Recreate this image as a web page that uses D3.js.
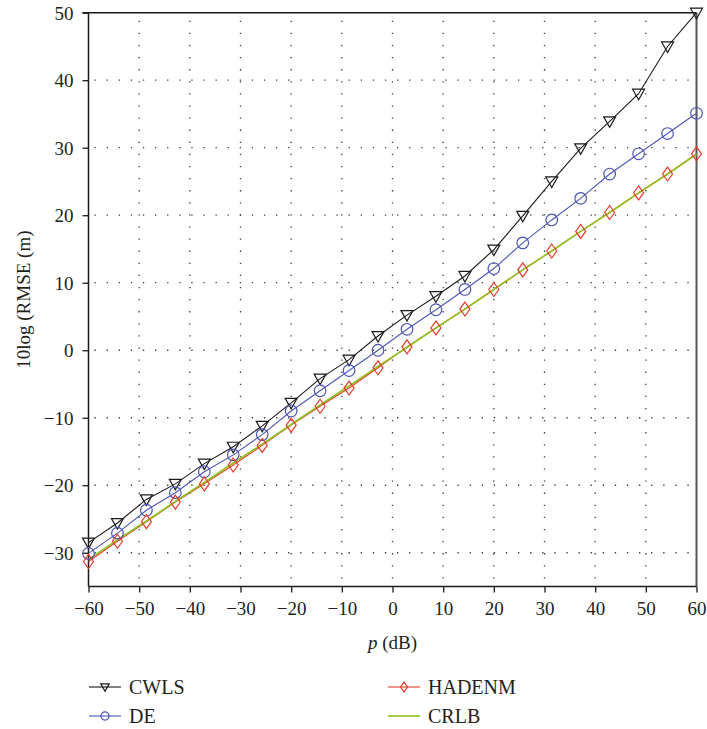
<!DOCTYPE html>
<html>
<head>
<meta charset="utf-8">
<script src="https://cdn.jsdelivr.net/npm/d3@7"></script>
<style>
  html, body { margin: 0; padding: 0; background: #fff; }
  svg { display: block; }
</style>
</head>
<body>
<svg id="chart" width="707" height="729"></svg>
<script>
// Power levels p (dB) at which each estimator was evaluated
const pValues = [-60, -54.29, -48.57, -42.86, -37.14, -31.43, -25.71, -20, -14.29, -8.57, -2.86,
                 2.86, 8.57, 14.29, 20, 25.71, 31.43, 37.14, 42.86, 48.57, 54.29, 60];

// 10log(RMSE) for each method
const cwls   = [-28.5, -25.6, -22.1, -19.8, -16.8, -14.3, -11.2, -7.8, -4.2, -1.4, 2.1,
                5.2, 8.0, 11.0, 14.9, 19.9, 25.0, 29.9, 33.9, 38.0, 45.0, 50.0];
const de     = [-30.1, -27.1, -23.7, -21.1, -18.0, -15.5, -12.5, -9.0, -6.0, -3.0, 0.0,
                3.1, 6.0, 9.0, 12.1, 15.9, 19.3, 22.5, 26.1, 29.1, 32.1, 35.1];
const hadenm = [-31.3, -28.3, -25.4, -22.5, -19.8, -17.0, -14.1, -11.1, -8.3, -5.6, -2.6,
                0.5, 3.3, 6.1, 9.0, 11.9, 14.7, 17.6, 20.4, 23.3, 26.1, 29.1];
const crlb   = [-31.0, -28.1, -25.3, -22.4, -19.6, -16.7, -13.9, -11.0, -8.1, -5.3, -2.4,
                0.4, 3.3, 6.1, 9.0, 11.9, 14.7, 17.6, 20.4, 23.3, 26.1, 29.0];

const xTicks = [-60, -50, -40, -30, -20, -10, 0, 10, 20, 30, 40, 50, 60];
const yTicks = [-30, -20, -10, 0, 10, 20, 30, 40, 50];

const seriesNames = ["CWLS", "DE", "HADENM", "CRLB"];

const FONT = '"Liberation Serif", "Times New Roman", Times, serif';
const TEXT_COLOR = "#231f20";

const svg = d3.select("#chart");
const plotL = 88.5, plotR = 696.5, plotT = 12.7, plotB = 586.5;

const x = d3.scaleLinear().domain([-60, 60]).range([plotL, plotR]);
const y = d3.scaleLinear().domain([-35, 50]).range([plotB, plotT]);

const fmt = v => v < 0 ? "\u2212" + Math.abs(v) : String(v);
const styleText = (sel, size) => sel.style("font-family", FONT).style("font-size", size + "px")
  .style("fill", TEXT_COLOR);

// dotted grid
const grid = svg.append("g")
  .attr("stroke", "#3a3a3a").attr("stroke-width", 1.3)
  .attr("stroke-dasharray", "1.3,10.8");
grid.selectAll("line.h").data(yTicks.filter(v => v < 50)).join("line")
  .attr("class", "h")
  .attr("x1", plotL).attr("x2", plotR)
  .attr("y1", d => y(d)).attr("y2", d => y(d))
  .attr("stroke-dashoffset", -6);
grid.selectAll("line.v").data(xTicks.filter(v => v > -60 && v < 60)).join("line")
  .attr("class", "v")
  .attr("x1", d => x(d)).attr("x2", d => x(d))
  .attr("y1", plotT).attr("y2", plotB)
  .attr("stroke-dashoffset", -8);

// frame: top and right borders
svg.append("line").attr("x1", plotL).attr("x2", plotR).attr("y1", plotT).attr("y2", plotT)
  .attr("stroke", "#1a1a1a").attr("stroke-width", 1.5);
svg.append("line").attr("x1", plotR).attr("x2", plotR).attr("y1", plotT).attr("y2", plotB)
  .attr("stroke", "#555").attr("stroke-width", 2);

// axes
const xAxis = d3.axisBottom(x).tickValues(xTicks).tickFormat(fmt).tickSize(6).tickPadding(9);
const yAxis = d3.axisLeft(y).tickValues(yTicks).tickFormat(fmt).tickSize(6).tickPadding(9);

const gx = svg.append("g").attr("transform", `translate(0,${plotB})`).call(xAxis);
const gy = svg.append("g").attr("transform", `translate(${plotL},0)`).call(yAxis);
[gx, gy].forEach(g => {
  g.select(".domain").attr("stroke", "#1a1a1a").attr("stroke-width", 1.5);
  g.selectAll(".tick line").attr("stroke", "#1a1a1a").attr("stroke-width", 1.3);
  styleText(g.selectAll(".tick text"), 19);
});
gy.select(".domain").attr("d", `M-6,${plotT}H0V${plotB}`);
gx.select(".domain").attr("d", `M${plotL},0H${plotR}`);
gy.selectAll(".tick text").attr("dy", "0.34em");

// axis titles
const xt = styleText(svg.append("text"), 19)
  .attr("x", (plotL + plotR) / 2).attr("y", 649)
  .attr("text-anchor", "middle");
xt.append("tspan").style("font-style", "italic").text("p");
xt.append("tspan").text(" (dB)");

styleText(svg.append("text"), 19)
  .attr("transform", `translate(30,${(plotT + plotB) / 2}) rotate(-90)`)
  .attr("text-anchor", "middle")
  .text("10log (RMSE (m)");

// marker shapes
const triPath = s => `M${-6 * s},${-4.5 * s}L${6 * s},${-4.5 * s}L0,${6 * s}Z`;
const diaPath = s => `M0,${-7 * s}L${5 * s},0L0,${7 * s}L${-5 * s},0Z`;

const series = [
  { name: seriesNames[0], values: cwls,   color: "#1a1a1a", marker: "tri",  width: 1.1 },
  { name: seriesNames[1], values: de,     color: "#4c55b4", marker: "circ", width: 1.1 },
  { name: seriesNames[2], values: hadenm, color: "#e63c2c", marker: "dia",  width: 1.1 },
  { name: seriesNames[3], values: crlb,   color: "#8cc21a", marker: null,   width: 1.6 }
];

const line = d3.line().x(d => x(d[0])).y(d => y(d[1]));

function drawMarker(g, kind, color, s) {
  if (kind === "tri") g.append("path").attr("d", triPath(s));
  else if (kind === "dia") g.append("path").attr("d", diaPath(s));
  else if (kind === "circ") g.append("circle").attr("r", 5.8 * s);
  g.selectAll("path,circle").attr("fill", "none").attr("stroke", color).attr("stroke-width", 1.2);
}

// lines
series.forEach(s => {
  const pts = pValues.map((p, i) => [p, s.values[i]]);
  svg.append("path").datum(pts)
    .attr("d", line).attr("fill", "none")
    .attr("stroke", s.color).attr("stroke-width", s.width);
});

// markers
series.filter(s => s.marker).forEach(s => {
  pValues.forEach((p, i) => {
    const g = svg.append("g").attr("transform", `translate(${x(p)},${y(s.values[i])})`);
    drawMarker(g, s.marker, s.color, 1);
  });
});

// legend
const legendPos = [
  { lx: 89, ly: 687 }, { lx: 89, ly: 716 },
  { lx: 388, ly: 687 }, { lx: 388, ly: 716 }
];
series.forEach((s, i) => {
  const p = legendPos[i];
  const g = svg.append("g");
  g.append("line").attr("x1", p.lx).attr("x2", p.lx + 32).attr("y1", p.ly).attr("y2", p.ly)
    .attr("stroke", s.color).attr("stroke-width", s.marker ? 1.1 : 1.6);
  if (s.marker) {
    const m = g.append("g").attr("transform", `translate(${p.lx + 16},${p.ly})`);
    drawMarker(m, s.marker, s.color, 0.7);
  }
  styleText(g.append("text"), 20)
    .attr("x", p.lx + 40).attr("y", p.ly + 7)
    .text(s.name);
});
</script>
</body>
</html>
